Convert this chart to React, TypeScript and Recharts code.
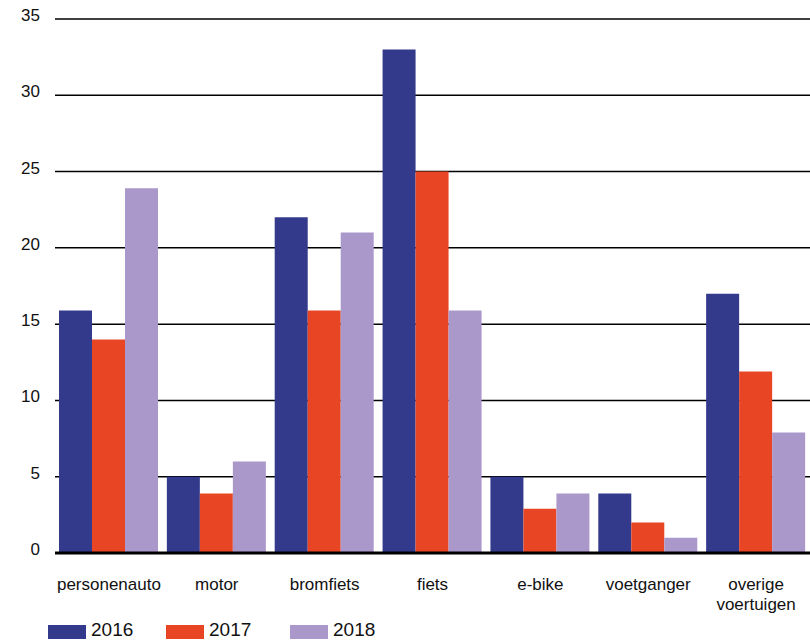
import { BarChart, Bar, XAxis, YAxis, CartesianGrid } from 'recharts'

const categories = [
  'personenauto',
  'motor',
  'bromfiets',
  'fiets',
  'e-bike',
  'voetganger',
  'overige voertuigen',
]
const values2016 = [15.9, 5, 22, 33, 5, 3.9, 17]
const values2017 = [14, 3.9, 15.9, 25, 2.9, 2, 11.9]
const values2018 = [23.9, 6, 21, 15.9, 3.9, 1, 7.9]
const yTicks = [0, 5, 10, 15, 20, 25, 30, 35]

const series = [
  { key: 'y2016', label: '2016', color: '#333a8c' },
  { key: 'y2017', label: '2017', color: '#e84524' },
  { key: 'y2018', label: '2018', color: '#aa98cb' },
]

const FONT = '"Liberation Sans", Arial, sans-serif'

function CategoryTick({ x, y, payload }: any) {
  // long labels wrap onto two lines
  const words = String(payload.value).split(' ')
  return (
    <text
      x={x}
      y={y + 37}
      textAnchor="middle"
      fill="#111"
      fontSize={17}
      fontFamily={FONT}
    >
      {words.map((w, i) => (
        <tspan key={w} x={x} dy={i === 0 ? 0 : 20}>
          {w}
        </tspan>
      ))}
    </text>
  )
}

function ValueTick({ x, y, payload }: any) {
  return (
    <text
      x={x}
      y={y - 4}
      dy="0.355em"
      textAnchor="end"
      fill="#111"
      fontSize={17}
      fontFamily={FONT}
    >
      {payload.value}
    </text>
  )
}

export default function App() {
  const data = categories.map((name, i) => ({
    name,
    y2016: values2016[i],
    y2017: values2017[i],
    y2018: values2018[i],
  }))

  const legendLeft = [48, 166, 290]

  return (
    <div
      style={{
        position: 'absolute',
        left: 0,
        top: 0,
        width: 810,
        height: 641,
        overflow: 'hidden',
        background: '#fff',
        fontFamily: FONT,
      }}
    >
      <BarChart
        width={810}
        height={641}
        data={data}
        margin={{ top: 19, right: 0, left: 0, bottom: 0 }}
        barCategoryGap={4}
        barGap={0}
      >
        <CartesianGrid vertical={false} stroke="#000" strokeWidth={1.5} />
        <XAxis
          dataKey="name"
          height={88}
          interval={0}
          tickLine={false}
          tickSize={0}
          tickMargin={0}
          axisLine={{ stroke: '#000', strokeWidth: 3 }}
          tick={<CategoryTick />}
        />
        <YAxis
          width={55}
          domain={[0, 35]}
          ticks={yTicks}
          axisLine={false}
          tickLine={false}
          tickSize={0}
          tickMargin={15}
          tick={<ValueTick />}
        />
        {series.map((s) => (
          <Bar
            key={s.key}
            dataKey={s.key}
            fill={s.color}
            isAnimationActive={false}
          />
        ))}
      </BarChart>

      {/* Legend */}
      {series.map((s, i) => (
        <div key={s.key}>
          <div
            style={{
              position: 'absolute',
              left: legendLeft[i],
              top: 625,
              width: 38,
              height: 14,
              background: s.color,
            }}
          />
          <div
            style={{
              position: 'absolute',
              left: legendLeft[i] + 43,
              top: 620,
              fontSize: 19,
              lineHeight: '19px',
              color: '#111',
            }}
          >
            {s.label}
          </div>
        </div>
      ))}
    </div>
  )
}
